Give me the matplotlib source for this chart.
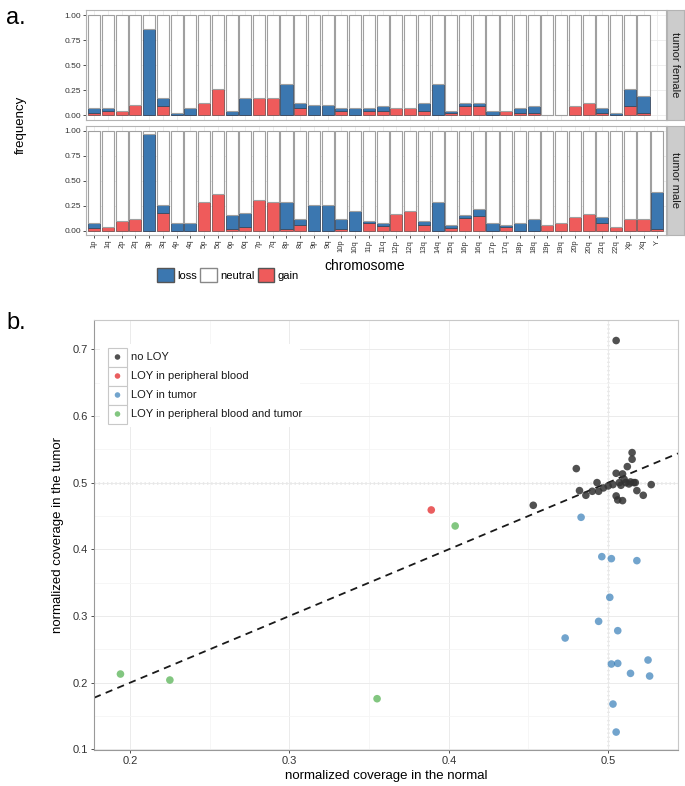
import numpy as np
import matplotlib
matplotlib.use("Agg")
import matplotlib.pyplot as plt
from matplotlib.patches import Rectangle, Patch

plt.rcParams['font.family'] = ['Liberation Sans', 'DejaVu Sans']

# ---------------- data: panel a ----------------
chromosomes = ['1p', '1q', '2p', '2q', '3p', '3q', '4p', '4q', '5p', '5q', '6p', '6q',
               '7p', '7q', '8p', '8q', '9p', '9q', '10p', '10q', '11p', '11q', '12p', '12q',
               '13q', '14q', '15q', '16p', '16q', '17p', '17q', '18p', '18q', '19p', '19q',
               '20p', '20q', '21q', '22q', 'Xp', 'Xq', 'Y']

female_gain = [0.023, 0.040, 0.046, 0.100, 0.000, 0.093, 0.000, 0.000, 0.122, 0.268, 0.000, 0.000,
               0.172, 0.172, 0.000, 0.073, 0.000, 0.000, 0.046, 0.000, 0.046, 0.040, 0.073, 0.073,
               0.043, 0.000, 0.023, 0.090, 0.090, 0.000, 0.046, 0.023, 0.023, 0.000, 0.000,
               0.096, 0.122, 0.023, 0.000, 0.096, 0.023, None]
female_loss = [0.053, 0.036, 0.000, 0.000, 0.860, 0.079, 0.026, 0.076, 0.000, 0.000, 0.046, 0.172,
               0.000, 0.000, 0.318, 0.050, 0.100, 0.100, 0.030, 0.076, 0.030, 0.056, 0.000, 0.000,
               0.079, 0.318, 0.023, 0.032, 0.032, 0.046, 0.000, 0.050, 0.073, 0.000, 0.000,
               0.000, 0.000, 0.050, 0.026, 0.172, 0.172, None]

male_gain = [0.023, 0.040, 0.093, 0.119, 0.000, 0.172, 0.000, 0.000, 0.291, 0.364, 0.020, 0.040,
             0.311, 0.291, 0.020, 0.056, 0.000, 0.000, 0.020, 0.000, 0.080, 0.046, 0.169, 0.192,
             0.053, 0.000, 0.023, 0.126, 0.146, 0.000, 0.040, 0.000, 0.000, 0.053, 0.073,
             0.132, 0.169, 0.076, 0.036, 0.113, 0.113, 0.020]
male_loss = [0.050, 0.000, 0.000, 0.000, 0.967, 0.080, 0.073, 0.073, 0.000, 0.000, 0.132, 0.132,
             0.000, 0.000, 0.271, 0.057, 0.252, 0.252, 0.093, 0.192, 0.016, 0.027, 0.000, 0.000,
             0.043, 0.291, 0.030, 0.026, 0.066, 0.073, 0.013, 0.073, 0.113, 0.000, 0.000,
             0.000, 0.000, 0.056, 0.000, 0.000, 0.000, 0.364]

# ---------------- data: panel b ----------------
noloy_x = [0.505, 0.453, 0.480, 0.482, 0.486, 0.490, 0.493, 0.494, 0.497, 0.500, 0.503, 0.505,
           0.505, 0.506, 0.507, 0.508, 0.509, 0.510, 0.511, 0.512, 0.513, 0.514, 0.515, 0.515,
           0.516, 0.517, 0.518, 0.522, 0.527, 0.509]
noloy_y = [0.713, 0.466, 0.521, 0.488, 0.481, 0.487, 0.500, 0.487, 0.492, 0.495, 0.497, 0.480,
           0.514, 0.474, 0.500, 0.496, 0.473, 0.505, 0.500, 0.524, 0.498, 0.501, 0.545, 0.535,
           0.500, 0.500, 0.488, 0.481, 0.497, 0.513]
blood_x = [0.389]
blood_y = [0.459]
tumor_x = [0.483, 0.473, 0.496, 0.502, 0.518, 0.501, 0.494, 0.506, 0.502, 0.506, 0.514, 0.525,
           0.526, 0.503, 0.505]
tumor_y = [0.448, 0.267, 0.389, 0.386, 0.383, 0.328, 0.292, 0.278, 0.228, 0.229, 0.214, 0.234,
           0.210, 0.168, 0.126]
both_x = [0.194, 0.225, 0.355, 0.404]
both_y = [0.213, 0.204, 0.176, 0.435]

LOSS = '#3b77b0'
GAIN = '#ef5b5b'
W, H = 685, 786


def frame(px0, py0, px1, py1):
    return [px0 / W, 1 - py1 / H, (px1 - px0) / W, (py1 - py0) / H]


fig = plt.figure(figsize=(6.85, 7.86), dpi=100)

# ---------------- panel a ----------------
def bar_panel(ax, gain, loss, strip_label, box):
    x = np.arange(len(chromosomes))
    for i in x:
        if gain[i] is None:
            continue
        g, l = gain[i], loss[i]
        ax.bar(i, g, width=0.88, bottom=0, color=GAIN, edgecolor='#7a5050', linewidth=0.6, zorder=3)
        ax.bar(i, l, width=0.88, bottom=g, color=LOSS, edgecolor='#3a4a60', linewidth=0.6, zorder=3)
        ax.bar(i, 1 - g - l, width=0.88, bottom=g + l, color='white', edgecolor='#a0a0a0',
               linewidth=0.8, zorder=3)
    ax.set_xlim(-0.6, len(chromosomes) - 0.4)
    ax.set_ylim(-0.045, 1.05)
    ax.set_yticks([0, 0.25, 0.5, 0.75, 1.0])
    ax.set_yticklabels(['0.00', '0.25', '0.50', '0.75', '1.00'], fontsize=6, color='#333333')
    ax.set_xticks(x)
    ax.grid(True, color='#ebebeb', linewidth=0.6, zorder=0)
    for s in ax.spines.values():
        s.set_color('#b3b3b3')
        s.set_linewidth(0.8)
    ax.tick_params(axis='both', length=2, width=0.6, color='#333333', pad=1.5)
    sax = fig.add_axes(box)
    sax.set_facecolor('#cccccc')
    sax.set_xticks([])
    sax.set_yticks([])
    for s in sax.spines.values():
        s.set_color('#b3b3b3')
    sax.text(0.5, 0.5, strip_label, rotation=-90, ha='center', va='center', fontsize=8,
             color='#1a1a1a', transform=sax.transAxes)


ax_f = fig.add_axes(frame(86, 10, 665.5, 120))
bar_panel(ax_f, female_gain, female_loss, 'tumor female', frame(666.5, 10, 684, 120))
ax_f.tick_params(axis='x', labelbottom=False, length=0)

ax_m = fig.add_axes(frame(86, 126, 665.5, 235))
bar_panel(ax_m, male_gain, male_loss, 'tumor male', frame(666.5, 126, 684, 235))
ax_m.set_xticklabels(chromosomes, rotation=90, fontsize=5.5, color='#333333')

fig.text(21 / W, 1 - 125 / H, 'frequency', rotation=90, ha='center', va='center', fontsize=9.5)
fig.text(365 / W, 1 - 266 / H, 'chromosome', ha='center', va='center', fontsize=10)
fig.text(6 / W, 1 - 18 / H, 'a.', ha='left', va='center', fontsize=17)

handles = [Patch(facecolor=LOSS, edgecolor='#555555'),
           Patch(facecolor='white', edgecolor='#888888'),
           Patch(facecolor=GAIN, edgecolor='#555555')]
fig.legend(handles, ['loss', 'neutral', 'gain'], loc='center', bbox_to_anchor=(228 / W, 1 - 275 / H),
           ncol=3, frameon=False, fontsize=8, handlelength=1.5, handleheight=1.5,
           columnspacing=0.3, handletextpad=0.3, borderpad=0)

# ---------------- panel b ----------------
ax = fig.add_axes(frame(94, 320, 678, 750))
ax.set_xlim(0.1774, 0.5438)
ax.set_ylim(0.0991, 0.7438)
ax.set_xticks([0.2, 0.3, 0.4, 0.5])
ax.set_xticklabels(['0.2', '0.3', '0.4', '0.5'], fontsize=8, color='#333333')
ax.set_yticks([0.1, 0.2, 0.3, 0.4, 0.5, 0.6, 0.7])
ax.set_yticklabels(['0.1', '0.2', '0.3', '0.4', '0.5', '0.6', '0.7'], fontsize=8, color='#333333')
ax.set_xticks([0.25, 0.35, 0.45], minor=True)
ax.set_yticks([0.15, 0.25, 0.35, 0.45, 0.55, 0.65], minor=True)
ax.grid(True, which='major', color='#ebebeb', linewidth=0.7, zorder=0)
ax.grid(True, which='minor', color='#f5f5f5', linewidth=0.6, zorder=0)
ax.tick_params(which='minor', length=0)
ax.tick_params(which='major', length=2.5, width=0.6, color='#333333', pad=2)
for s in ax.spines.values():
    s.set_color('#c8c8c8')
    s.set_linewidth(0.8)
ax.spines['left'].set_color('#999999')
ax.spines['bottom'].set_color('#999999')

ax.axvline(0.5, color='#999999', linestyle=(0, (1, 2)), linewidth=1, zorder=1)
ax.axhline(0.5, color='#999999', linestyle=(0, (1, 2)), linewidth=1, zorder=1)
ax.axline((0.2, 0.2), (0.5, 0.5), color='#1a1a1a', linestyle=(0, (4, 3)), linewidth=1.3, zorder=2)

groups = [('no LOY', noloy_x, noloy_y, '#333333', 0.85),
          ('LOY in peripheral blood', blood_x, blood_y, '#e4282a', 0.75),
          ('LOY in tumor', tumor_x, tumor_y, '#377eb8', 0.7),
          ('LOY in peripheral blood and tumor', both_x, both_y, '#4daf4a', 0.7)]
for label, gx, gy, col, a in groups:
    ax.scatter(gx, gy, s=30, color=col, alpha=a, edgecolors='none', zorder=4)

# legend drawn by hand to get ggplot-style key boxes
leg_rows = [357, 376, 395, 414]
ax.add_patch(Rectangle(((100 - 94) / 584, (750 - 427) / 430), 200 / 584, 83 / 430,
                       transform=ax.transAxes, facecolor='white', edgecolor='none', zorder=5))
for (label, gx, gy, col, a), py in zip(groups, leg_rows):
    yb = (750 - py - 9.5) / 430
    ax.add_patch(Rectangle(((108 - 94) / 584, yb), 19 / 584, 19 / 430, transform=ax.transAxes,
                           facecolor='white', edgecolor='#c8c8c8', linewidth=0.8, zorder=6))
    ax.scatter([(117.5 - 94) / 584], [(750 - py) / 430], s=16, color=col, alpha=a,
               edgecolors='none', transform=ax.transAxes, zorder=7)
    ax.text((131 - 94) / 584, (750 - py) / 430, label, transform=ax.transAxes, fontsize=8,
            va='center', ha='left', color='#1a1a1a', zorder=7)

ax.set_xlabel('normalized coverage in the normal', fontsize=9.5, labelpad=3)
ax.set_ylabel('normalized coverage in the tumor', fontsize=9.5, labelpad=6)
fig.text(6 / W, 1 - 323 / H, 'b.', ha='left', va='center', fontsize=17)

fig.savefig('out.png', dpi=100)
